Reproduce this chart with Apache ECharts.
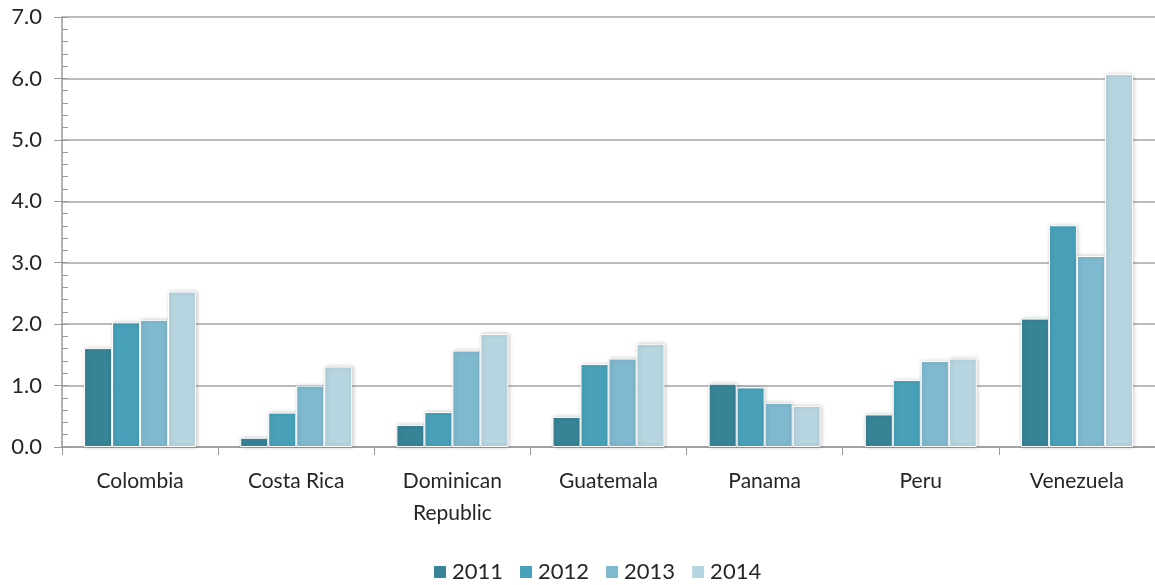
<!DOCTYPE html>
<html>
<head>
<meta charset="utf-8">
<script src="https://cdn.jsdelivr.net/npm/echarts@6/dist/echarts.min.js"></script>
<style>
  html, body { margin: 0; padding: 0; background: #fff; }
  #chart { width: 1155px; height: 585px; }
</style>
</head>
<body>
<div id="chart"></div>
<script>
const countries = ['Colombia', 'Costa Rica', 'Dominican\nRepublic', 'Guatemala', 'Panama', 'Peru', 'Venezuela'];
const years = ['2011', '2012', '2013', '2014'];
const colors = ['#378497', '#48a1b9', '#7fb9cf', '#b7d5e0'];

const v2011 = [1.61, 0.15, 0.36, 0.49, 1.03, 0.53, 2.09];
const v2012 = [2.03, 0.56, 0.57, 1.35, 0.97, 1.09, 3.61];
const v2013 = [2.07, 1.00, 1.57, 1.44, 0.72, 1.40, 3.11];
const v2014 = [2.53, 1.31, 1.84, 1.68, 0.67, 1.44, 6.07];
const values = [v2011, v2012, v2013, v2014];

const font = 'Lato, "Noto Sans", sans-serif';
const textColor = '#262626';

const dom = document.getElementById('chart');
const myChart = echarts.init(dom, null, { renderer: 'canvas' });

const series = years.map((y, i) => ({
  name: y,
  type: 'bar',
  data: values[i],
  barWidth: 28,
  barGap: '0%',
  itemStyle: {
    color: colors[i],
    borderColor: '#fff',
    borderWidth: 1,
    shadowBlur: 4,
    shadowColor: 'rgba(0,0,0,0.22)',
    shadowOffsetX: 1
  }
}));

const option = {
  animation: false,
  color: colors,
  grid: { left: 62, right: 0, top: 17, bottom: 138, containLabel: false },
  legend: {
    data: years,
    top: 556,
    left: 427,
    icon: 'rect',
    itemWidth: 14,
    itemHeight: 14,
    itemGap: 15,
    textStyle: { fontFamily: font, fontSize: 22, color: textColor }
  },
  xAxis: {
    type: 'category',
    data: countries,
    axisLine: { lineStyle: { color: '#999', width: 1.5 } },
    axisTick: { show: true, length: 8, lineStyle: { color: '#999' } },
    axisLabel: {
      margin: 18,
      fontFamily: font,
      fontSize: 21,
      lineHeight: 32,
      color: textColor
    }
  },
  yAxis: [
    {
      type: 'value',
      min: 0,
      max: 7,
      interval: 1,
      axisLine: { show: true, lineStyle: { color: '#999', width: 1.5 } },
      axisTick: { show: true, length: 8, lineStyle: { color: '#999' } },
      splitLine: { lineStyle: { color: '#a6a6a6', width: 1.5 } },
      axisLabel: {
        margin: 20,
        fontFamily: font,
        fontSize: 22,
        color: textColor,
        formatter: v => v.toFixed(1)
      }
    },
    {
      type: 'value',
      min: 0,
      max: 7,
      interval: 0.2,
      position: 'left',
      axisLine: { show: false },
      axisTick: { show: true, inside: true, length: 6, lineStyle: { color: '#999' } },
      splitLine: { show: false },
      axisLabel: { show: false }
    }
  ],
  series: series
};

myChart.setOption(option);
window.addEventListener('resize', myChart.resize);
</script>
</body>
</html>
